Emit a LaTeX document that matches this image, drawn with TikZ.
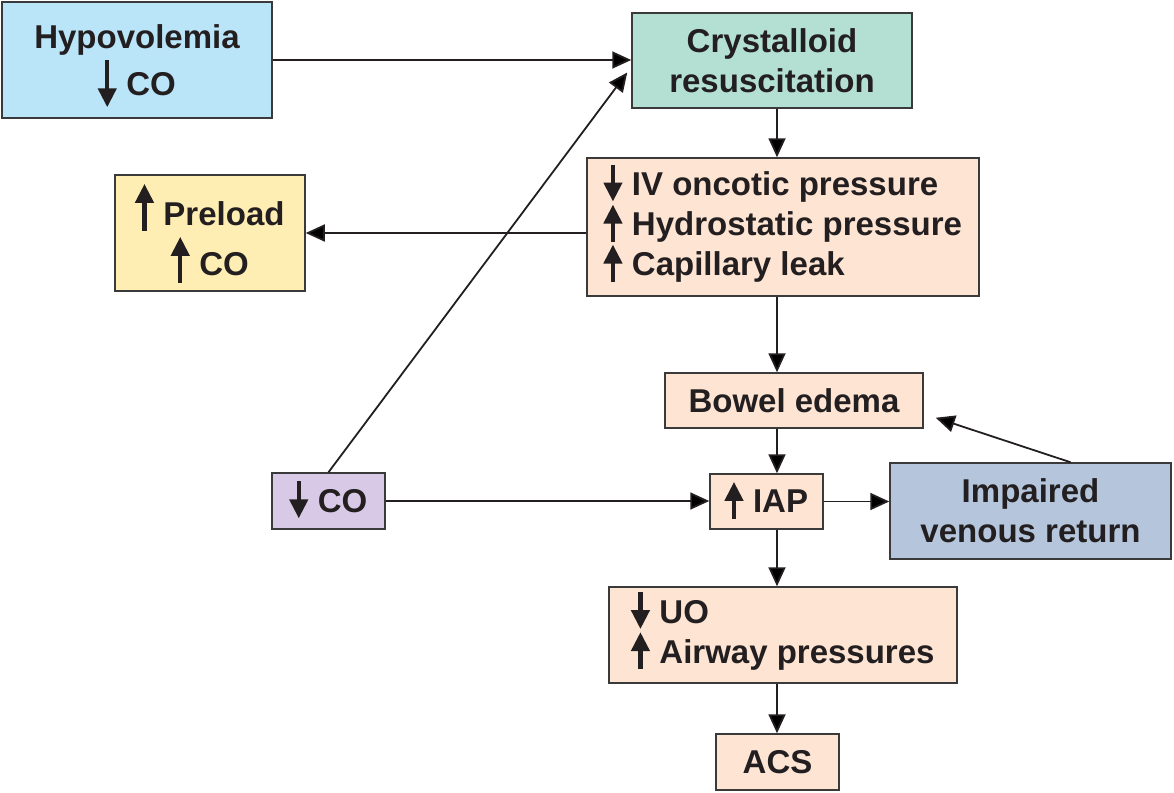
\documentclass[tikz,border=0pt]{standalone}
\usepackage{fontspec}
\setmainfont{Liberation Sans}
\usetikzlibrary{arrows.meta}
\definecolor{txt}{HTML}{231F20}
\definecolor{edge}{HTML}{3A3A3A}
\definecolor{hypoblue}{HTML}{BAE4F8}
\definecolor{crystgreen}{HTML}{B3E0D2}
\definecolor{preyellow}{HTML}{FEEEB3}
\definecolor{peach}{HTML}{FDE4D3}
\definecolor{venblue}{HTML}{B5C6DC}
\definecolor{colilac}{HTML}{D8C9E6}
% inline arrows: #1 start, #2 end (relative to baseline)
\newcommand\txtarrow[2]{\smash{\tikz[baseline=0pt]\draw[txt,line width=4.4pt,-{Triangle[length=19pt,width=18pt]}] (0pt,#1) -- (0pt,#2);}\hspace{10pt}}
\newcommand\ua{\txtarrow{-6pt}{31pt}}
\newcommand\da{\txtarrow{31pt}{-6pt}}
\tikzset{
  box/.style={draw=edge, line width=1.5pt, text=txt, inner sep=0pt,
    font=\fontsize{33}{40}\selectfont\bfseries, align=center},
  leftbox/.style={box, align=left},
  arr/.style={draw=txt, line width=1.8pt, -{Triangle[length=19pt,width=17pt]}}
}
\begin{document}
\begin{tikzpicture}[x=1pt,y=-1pt]
\useasboundingbox (0,0) rectangle (1174,792);
\coordinate (spine) at (777,0);
\node[box, fill=hypoblue, minimum width=270pt, minimum height=116pt] (hypo) at (137,60) {Hypovolemia\\[7pt]\txtarrow{35pt}{-12pt}CO};
\node[box, fill=crystgreen, minimum width=280pt, minimum height=95pt] (cryst) at (772,60.5) {Crystalloid\\resuscitation};
\node[box, fill=preyellow, minimum width=190pt, minimum height=116pt] (preload) at (210,233) {\rule{0pt}{36pt}\txtarrow{-5pt}{42pt}Preload\\[10pt]\txtarrow{-7pt}{39pt}CO};
\node[leftbox, fill=peach, minimum width=392pt, minimum height=138pt] (onc) at (783,227) {\da IV oncotic pressure\\\ua Hydrostatic pressure\\\ua Capillary leak};
\node[box, fill=peach, minimum width=258pt, minimum height=55pt] (bowel) at (794,400.5) {Bowel edema};
\node[box, fill=peach, minimum width=113pt, minimum height=55pt] (iap) at (766.5,501.5) {\ua IAP};
\node[box, fill=venblue, minimum width=281pt, minimum height=96pt] (imp) at (1030.5,511) {Impaired\\venous return};
\node[box, fill=colilac, minimum width=113pt, minimum height=56pt] (co) at (328.5,501) {\da CO};
\node[leftbox, fill=peach, minimum width=348pt, minimum height=96pt] (uo) at (783,635) {\da UO\\\ua Airway pressures};
\node[box, fill=peach, minimum width=123pt, minimum height=56pt] (acs) at (777.5,762) {ACS};

\draw[arr] (hypo.east) -- (hypo.east -| cryst.west);
\draw[arr] (cryst.south -| spine) -- (onc.north -| spine);
\draw[arr] (onc.west |- preload.east) -- (preload.east);
\draw[arr] (co.north) -- ([xshift=-4pt,yshift=-12pt]cryst.west);
\draw[arr] (onc.south -| spine) -- (bowel.north -| spine);
\draw[arr] (bowel.south -| spine) -- (iap.north -| spine);
\draw[arr] (co.east) -- (co.east -| iap.west);
\draw[arr] (iap.east) -- (iap.east -| imp.west);
\draw[arr] ([xshift=40pt]imp.north) -- ([xshift=12pt,yshift=11pt]bowel.south east);
\draw[arr] (iap.south -| spine) -- (uo.north -| spine);
\draw[arr] (uo.south -| spine) -- (acs.north -| spine);
\end{tikzpicture}
\end{document}
